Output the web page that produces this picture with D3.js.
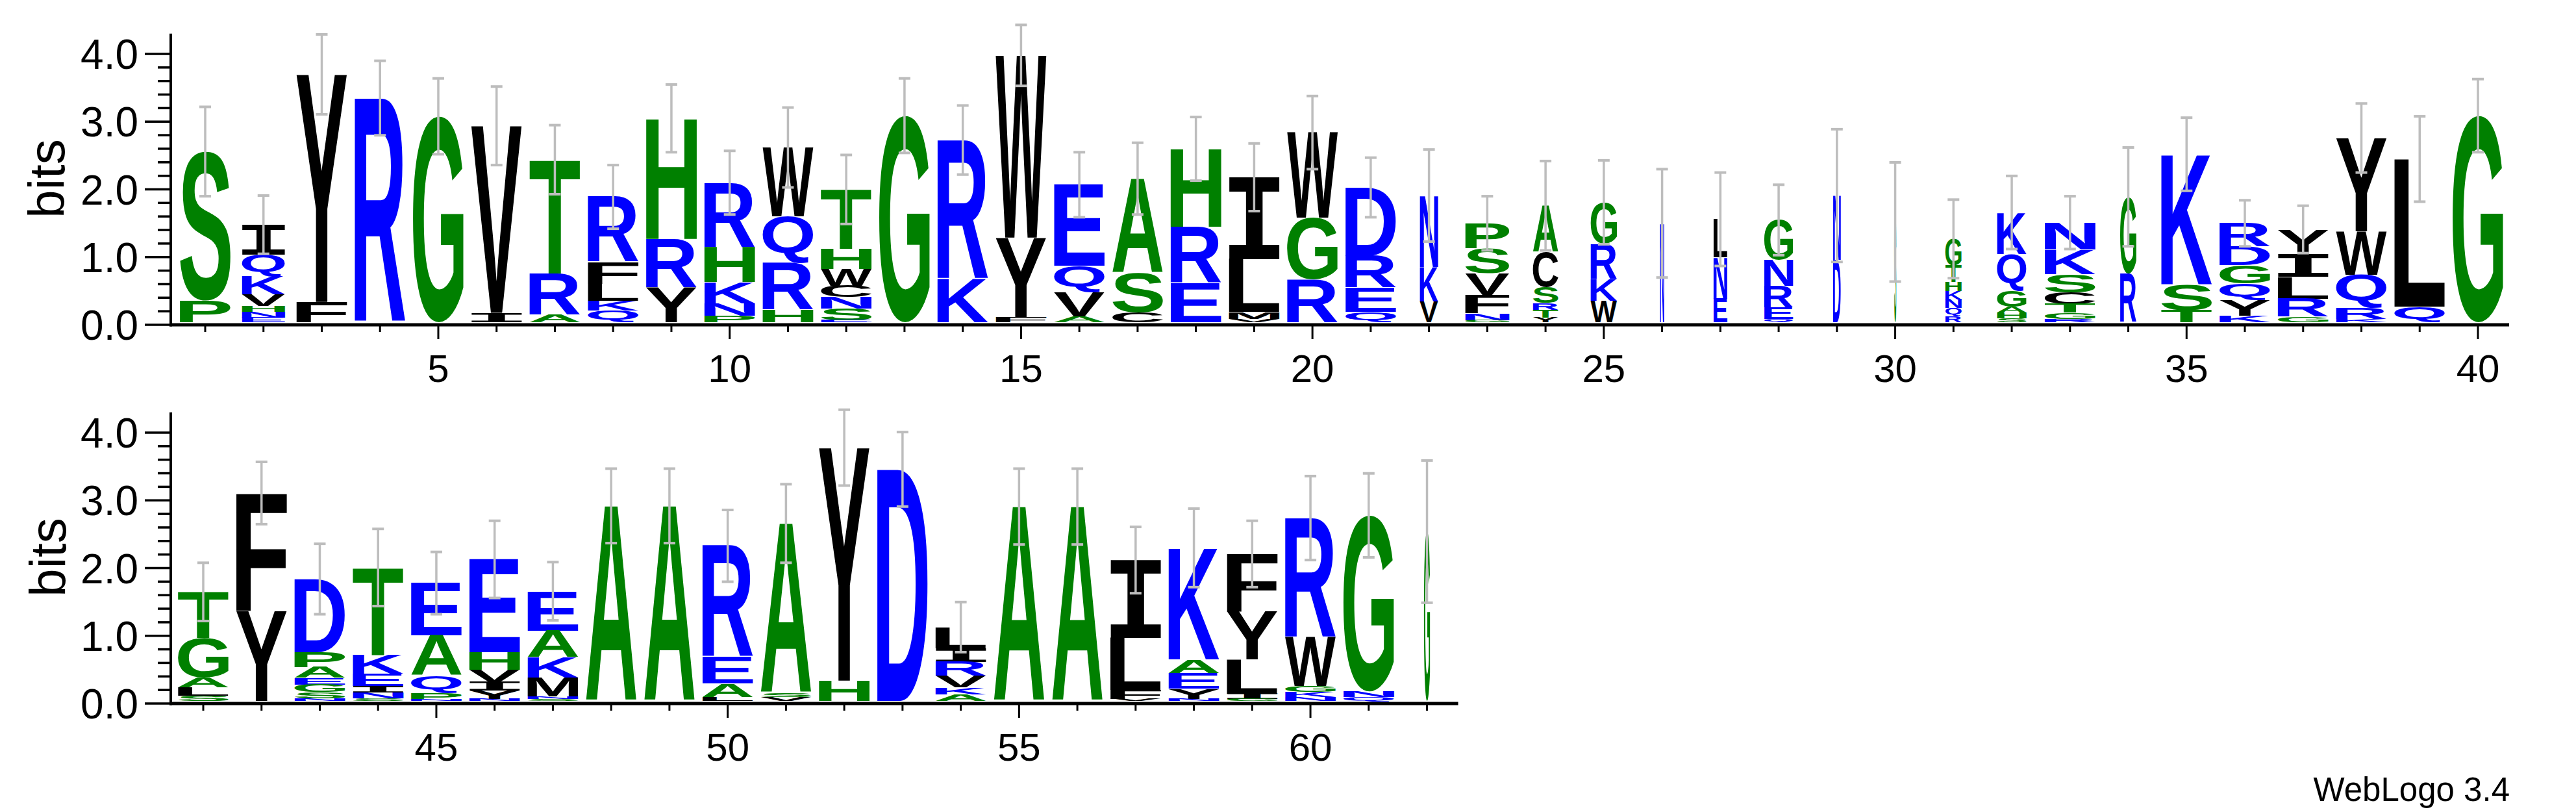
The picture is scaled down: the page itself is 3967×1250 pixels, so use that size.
<!DOCTYPE html>
<html>
<head>
<meta charset="utf-8">
<script src="https://cdn.jsdelivr.net/npm/d3@7"></script>
<style>
  body { margin: 0; background: #fff; }
  svg { display: block; }
</style>
</head>
<body>
<svg id="logo" width="3967" height="1250"></svg>
<script>
// stacks listed top -> bottom, heights in bits
const letters1 = [
  "SP", "IQKVHNE", "YF", "R", "G", "VI", "TRA", "RFLKQ", "HRY", "RHKNP",
  "WQRH", "THWCNSE", "G", "RK", "WYF", "EQVA", "ASC", "HRE", "ILMV", "WGR",
  "DREQ", "NKV", "PSVFNG", "ACSRTY", "GRKW", "N", "LNE", "GNREQ", "ND", "S",
  "GTHKNQR", "KQGAHS", "NKSCTGR", "GR", "KST", "RDGQYK", "YILRG", "YWQRK", "LQ", "G"
];
const heights1 = [
  [2.20, 0.32], [0.44, 0.32, 0.27, 0.17, 0.09, 0.08, 0.07], [3.36, 0.30], [3.31], [3.04],
  [2.76, 0.14], [1.69, 0.60, 0.11], [0.96, 0.32, 0.25, 0.15, 0.17], [1.78, 0.72, 0.51],
  [0.95, 0.52, 0.31, 0.18, 0.10], [1.02, 0.68, 0.69, 0.19], [0.88, 0.29, 0.25, 0.17, 0.17, 0.17, 0.03],
  [3.05], [2.05, 0.64], [2.69, 1.18, 0.07], [1.20, 0.38, 0.36, 0.09], [1.39, 0.58, 0.15],
  [1.15, 0.83, 0.58], [1.21, 0.78, 0.10, 0.05], [1.26, 0.91, 0.63], [1.01, 0.47, 0.36, 0.15],
  [1.05, 0.51, 0.31], [0.37, 0.37, 0.32, 0.27, 0.10, 0.03], [0.68, 0.52, 0.24, 0.10, 0.11, 0.07],
  [0.61, 0.52, 0.32, 0.32], [1.46], [0.56, 0.61, 0.35], [0.59, 0.38, 0.32, 0.17, 0.05],
  [0.95, 0.92], [1.48], [0.39, 0.25, 0.13, 0.12, 0.13, 0.12, 0.09], [0.61, 0.54, 0.24, 0.09, 0.08, 0.06],
  [0.40, 0.36, 0.27, 0.17, 0.13, 0.09, 0.05], [1.13, 0.72], [1.92, 0.38, 0.18],
  [0.34, 0.28, 0.27, 0.24, 0.23, 0.10], [0.37, 0.33, 0.32, 0.27, 0.08], [1.38, 0.64, 0.49, 0.16, 0.05],
  [2.18, 0.23], [3.05]
];
const errors1 = [0.66, 0.43, 0.59, 0.55, 0.56, 0.58, 0.51, 0.47, 0.50, 0.47, 0.59, 0.51, 0.55, 0.51,
  0.45, 0.48, 0.53, 0.47, 0.50, 0.54, 0.44, 0.68, 0.40, 0.66, 0.62, 0.80, 0.69, 0.52, 0.98, 0.88,
  0.58, 0.54, 0.39, 0.73, 0.54, 0.34, 0.35, 0.51, 0.63, 0.54];
const widths1 = [1, 0.85, 1, 1, 1, 1, 1, 1, 1, 1, 1, 1, 1, 1, 1, 1, 1, 1, 1, 1,
  1, 0.36, 0.87, 0.5, 0.52, 0.08, 0.27, 0.57, 0.15, 0.04, 0.32, 0.58, 1, 0.32, 1, 1, 1, 1, 1, 1];

const letters2 = [
  "TGALS", "FY", "DPAEGSN", "TKEINS", "EAQPN", "EHVIYN", "EAKMNS", "A", "A", "REAL",
  "ASV", "YH", "D", "LIRVKA", "A", "A", "ILFV", "KAEYN", "FYLIG", "RWGKN", "GNQ", "G"
];
const heights2 = [
  [0.68, 0.58, 0.15, 0.12, 0.08], [1.74, 1.33], [1.08, 0.22, 0.16, 0.10, 0.11, 0.09, 0.04],
  [1.29, 0.28, 0.18, 0.10, 0.08, 0.04], [0.77, 0.59, 0.26, 0.10, 0.02], [1.37, 0.26, 0.18, 0.13, 0.12, 0.03],
  [0.58, 0.39, 0.30, 0.28, 0.04, 0.03], [2.88], [2.88], [1.64, 0.39, 0.20, 0.06], [2.50, 0.06, 0.06],
  [3.44, 0.30], [3.42], [0.31, 0.20, 0.21, 0.17, 0.10, 0.10], [2.87], [2.87], [1.15, 0.77, 0.13, 0.03],
  [1.65, 0.20, 0.23, 0.15, 0.03], [0.85, 0.71, 0.50, 0.08, 0.03], [1.76, 0.72, 0.09, 0.07, 0.06],
  [2.60, 0.08, 0.06], [2.50]
];
const errors2 = [0.43, 0.46, 0.52, 0.57, 0.46, 0.57, 0.43, 0.55, 0.55, 0.53, 0.58, 0.56, 0.55, 0.37,
  0.56, 0.56, 0.49, 0.58, 0.49, 0.62, 0.62, 1.05];
const widths2 = [1, 1, 1, 1, 1, 1, 1, 1, 1, 1, 1, 1, 1, 1, 1, 1, 1, 1, 1, 1, 1, 0.12];

const yTicks = [0, 1, 2, 3, 4];

const colour = {};
"GSTACP".split("").forEach(c => colour[c] = "#008000");
"HGST".split("").forEach(c => colour[c] = "#008000");
"RKDENQ".split("").forEach(c => colour[c] = "#0000ff");
"YWFLIVM".split("").forEach(c => colour[c] = "#000000");
colour.C = "#000000";
colour.H = "#008000";

const svg = d3.select("#logo");
const stackW = 78;
const font = "Liberation Sans, Arial, sans-serif";
const iFont = "DejaVu Sans Mono, monospace";

// measure glyph ink boxes with canvas so letters can be stretched to their cell
const ctx = document.createElement("canvas").getContext("2d");
const inkCache = {};
function ink(ch) {
  if (inkCache[ch]) return inkCache[ch];
  ctx.font = "bold 200px " + (ch === "I" ? iFont : font);
  const m = ctx.measureText(ch);
  inkCache[ch] = { l: -m.actualBoundingBoxLeft, r: m.actualBoundingBoxRight,
    a: m.actualBoundingBoxAscent, d: m.actualBoundingBoxDescent };
  return inkCache[ch];
}

function drawRow(first, letters, heights, errors, widths, x, y, label) {
  const g = svg.append("g");
  const n = letters.length;
  const positions = d3.range(first, first + n);
  const base = y(0) - 4;
  const bit = y(0) - y(1);

  positions.forEach((p, i) => {
    const w = stackW * widths[i];
    const x0 = x(p) - w / 2;
    let top = base - d3.sum(heights[i]) * bit;
    const stackTop = top;
    letters[i].split("").forEach((ch, j) => {
      const h = heights[i][j] * bit;
      const b = ink(ch);
      const sx = w / (b.r - b.l), sy = h / (b.a + b.d);
      g.append("text")
        .attr("transform", `translate(${x0},${top}) scale(${sx},${sy}) translate(${-b.l},${b.a})`)
        .attr("font-family", ch === "I" ? iFont : font)
        .attr("font-weight", "bold")
        .attr("font-size", 200)
        .attr("fill", colour[ch])
        .text(ch);
      top += h;
    });
    // error bar
    const e = errors[i] * bit;
    const cx = x(p);
    g.append("line").attr("x1", cx).attr("x2", cx).attr("y1", stackTop - e).attr("y2", stackTop + e)
      .attr("stroke", "#bdbdbd").attr("stroke-width", 3.5);
    [stackTop - e, stackTop + e].forEach(yy => {
      g.append("line").attr("x1", cx - 9).attr("x2", cx + 9).attr("y1", yy).attr("y2", yy)
        .attr("stroke", "#bdbdbd").attr("stroke-width", 4);
    });
  });

  // x axis
  const xEnd = x(first + n - 1) + 48;
  g.append("line").attr("x1", 261).attr("x2", xEnd).attr("y1", y(0)).attr("y2", y(0))
    .attr("stroke", "#000").attr("stroke-width", 5);
  positions.forEach(p => {
    const major = p % 5 === 0;
    g.append("line").attr("x1", x(p)).attr("x2", x(p)).attr("y1", y(0))
      .attr("y2", y(0) + (major ? 22 : 11)).attr("stroke", "#000").attr("stroke-width", 3);
    if (major) {
      g.append("text").attr("x", x(p)).attr("y", y(0) + 88).attr("text-anchor", "middle")
        .attr("font-family", font).attr("font-size", 60).text(p);
    }
  });

  // y axis
  g.append("line").attr("x1", 263).attr("x2", 263).attr("y1", y(4.3)).attr("y2", y(0) + 2.5)
    .attr("stroke", "#000").attr("stroke-width", 4);
  d3.range(0, 21).forEach(k => {
    const v = k * 0.2;
    const major = k % 5 === 0;
    g.append("line").attr("x1", major ? 223 : 243).attr("x2", 263).attr("y1", y(v)).attr("y2", y(v))
      .attr("stroke", "#000").attr("stroke-width", 3.5);
  });
  yTicks.forEach(v => {
    g.append("text").attr("x", 213).attr("y", y(v) + 23).attr("text-anchor", "end")
      .attr("font-family", font).attr("font-size", 64).text(v.toFixed(1));
  });
  g.append("text").attr("transform", `translate(${label[0]},${label[1]}) rotate(-90)`)
    .attr("text-anchor", "middle").attr("dominant-baseline", "central")
    .attr("font-family", font).attr("font-size", 78).text("bits");
}

const x1 = d3.scaleLinear().domain([1, 40]).range([316, 3816]);
const y1 = d3.scaleLinear().domain([0, 4]).range([500, 83]);
const x2 = d3.scaleLinear().domain([41, 62]).range([313, 313 + 21 * 89.74]);
const y2 = d3.scaleLinear().domain([0, 4]).range([1083, 666]);

drawRow(1, letters1, heights1, errors1, widths1, x1, y1, [72, 275]);
drawRow(41, letters2, heights2, errors2, widths2, x2, y2, [74, 858]);

svg.append("text").attr("x", 3865).attr("y", 1233).attr("text-anchor", "end")
  .attr("font-family", font).attr("font-size", 51).text("WebLogo 3.4");
</script>
</body>
</html>
